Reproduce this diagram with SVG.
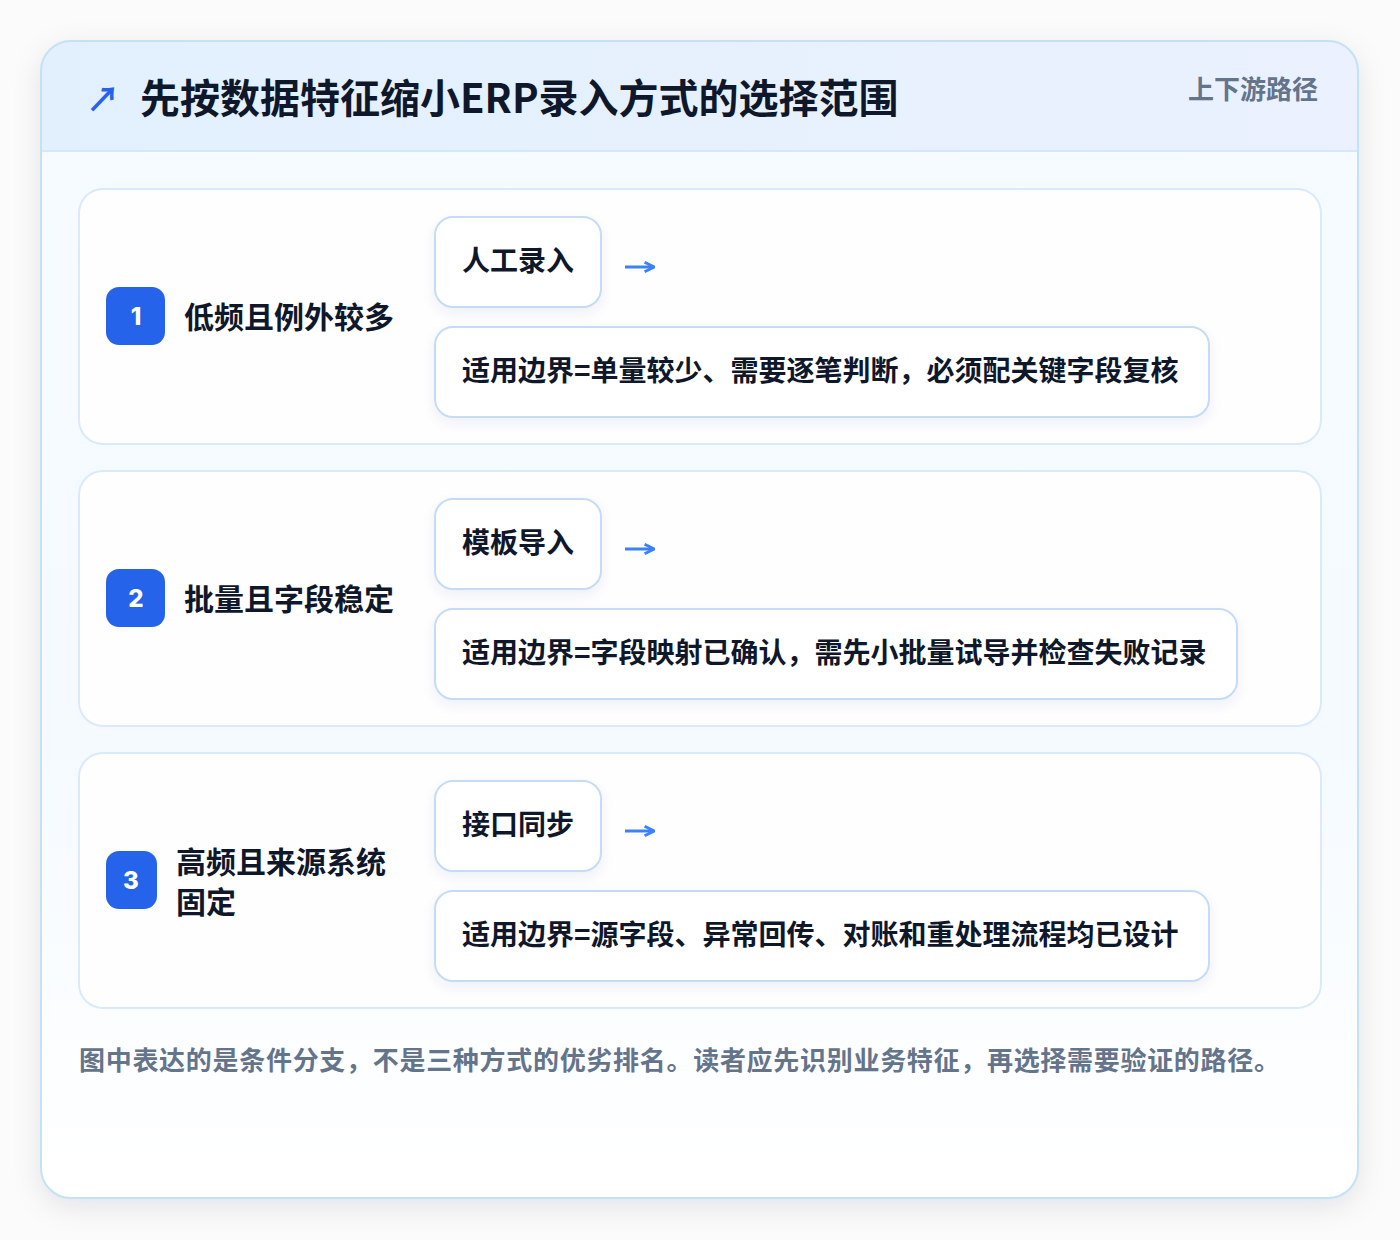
<svg xmlns="http://www.w3.org/2000/svg" width="1400" height="1240" viewBox="0 0 1400 1240">
<defs>
<linearGradient id="hdr" x1="0" y1="0" x2="1" y2="0"><stop offset="0" stop-color="#e2f0fd"/><stop offset="1" stop-color="#ebf1fe"/></linearGradient>
<linearGradient id="body" x1="0" y1="0" x2="0" y2="1"><stop offset="0" stop-color="#f6fbff"/><stop offset="0.6" stop-color="#f4faff"/><stop offset="1" stop-color="#ffffff"/></linearGradient>
<filter id="sh" x="-10%" y="-10%" width="120%" height="120%"><feDropShadow dx="0" dy="8" stdDeviation="14" flood-color="#0f172a" flood-opacity="0.10"/></filter>
<filter id="bs" x="-10%" y="-20%" width="120%" height="150%"><feDropShadow dx="0" dy="5" stdDeviation="6" flood-color="#1e3a8a" flood-opacity="0.07"/></filter>
<clipPath id="cardclip"><rect x="41" y="41" width="1317" height="1157" rx="30"/></clipPath>
<marker id="ah" viewBox="0 0 10 10" refX="8" refY="5" markerWidth="4" markerHeight="4.4" orient="auto" markerUnits="strokeWidth"><path d="M1,1 L9,5 L1,9" fill="none" stroke="#3b82f6" stroke-width="2.4"/></marker>
</defs>
<style>
.t{font-family:"Noto Sans CJK SC","Liberation Sans",sans-serif;font-weight:700}
.sec{fill:#fefeff;stroke:#dbeafb;stroke-width:2}
.box{fill:#ffffff;stroke:#c5dbf6;stroke-width:2}
.badge{fill:#2563eb}
.bn{fill:#ffffff;font-size:24px;text-anchor:middle;font-family:"Inter","Noto Sans CJK SC",sans-serif;font-weight:800}
.lab{fill:#0f172a;font-size:30px}
.bx{fill:#0f172a;font-size:28px}
.con{stroke:#3b82f6;stroke-width:3;fill:none}
</style>
<rect width="1400" height="1240" fill="#fbfbfc"/>
<g id="card">
<rect x="41" y="41" width="1317" height="1157" rx="30" fill="url(#body)" filter="url(#sh)"/>
<g clip-path="url(#cardclip)">
<rect x="41" y="41" width="1317" height="110" fill="url(#hdr)"/>
<line x1="41" y1="151" x2="1358" y2="151" stroke="#d6e8f8" stroke-width="2"/>
</g>
<rect x="41" y="41" width="1317" height="1157" rx="30" fill="none" stroke="#c3e2f5" stroke-width="2"/>
</g>
<g id="header">
<text class="t" x="86" y="112" font-size="34" fill="#2563eb">↗</text>
<text class="t" x="140" y="113" font-size="40" fill="#0f172a">先按数据特征缩小ERP录入方式的选择范围</text>
<text class="t" x="1318" y="99" font-size="26" fill="#64748b" text-anchor="end">上下游路径</text>
</g>
<g id="row1">
<rect class="sec" x="79" y="189" width="1242" height="255" rx="24"/>
<rect class="badge" x="106" y="287" width="59" height="58" rx="13"/>
<text class="bn" x="136" y="325">1</text>
<text class="t lab" x="184" y="328">低频且例外较多</text>
<g id="m1"><rect class="box" x="435" y="217" width="166" height="90" rx="18" filter="url(#bs)"/>
<text class="t bx" x="462" y="271">人工录入</text></g>
<g id="d1"><rect class="box" x="435" y="327" width="774" height="90" rx="18" filter="url(#bs)"/>
<text class="t bx" x="462" y="381">适用边界=单量较少、需要逐笔判断，必须配关键字段复核</text></g>
</g>
<g id="row2">
<rect class="sec" x="79" y="471" width="1242" height="255" rx="24"/>
<rect class="badge" x="106" y="569" width="59" height="58" rx="13"/>
<text class="bn" x="136" y="607">2</text>
<text class="t lab" x="184" y="610">批量且字段稳定</text>
<g id="m2"><rect class="box" x="435" y="499" width="166" height="90" rx="18" filter="url(#bs)"/>
<text class="t bx" x="462" y="553">模板导入</text></g>
<g id="d2"><rect class="box" x="435" y="609" width="802" height="90" rx="18" filter="url(#bs)"/>
<text class="t bx" x="462" y="663">适用边界=字段映射已确认，需先小批量试导并检查失败记录</text></g>
</g>
<g id="row3">
<rect class="sec" x="79" y="753" width="1242" height="255" rx="24"/>
<rect class="badge" x="106" y="851" width="51" height="58" rx="13"/>
<text class="bn" x="131" y="889">3</text>
<text class="t lab" x="176" y="873">高频且来源系统</text>
<text class="t lab" x="176" y="913">固定</text>
<g id="m3"><rect class="box" x="435" y="781" width="166" height="90" rx="18" filter="url(#bs)"/>
<text class="t bx" x="462" y="835">接口同步</text></g>
<g id="d3"><rect class="box" x="435" y="891" width="774" height="90" rx="18" filter="url(#bs)"/>
<text class="t bx" x="462" y="945">适用边界=源字段、异常回传、对账和重处理流程均已设计</text></g>
</g>
<g id="connectors">
<path class="con" d="M625,267 H653" marker-end="url(#ah)"/>
<path class="con" d="M625,549 H653" marker-end="url(#ah)"/>
<path class="con" d="M625,831 H653" marker-end="url(#ah)"/>
</g>
<g id="footer">
<text class="t" x="79" y="1070" font-size="26" fill="#64748b" textLength="1201" lengthAdjust="spacing">图中表达的是条件分支，不是三种方式的优劣排名。读者应先识别业务特征，再选择需要验证的路径。</text>
</g>
</svg>
